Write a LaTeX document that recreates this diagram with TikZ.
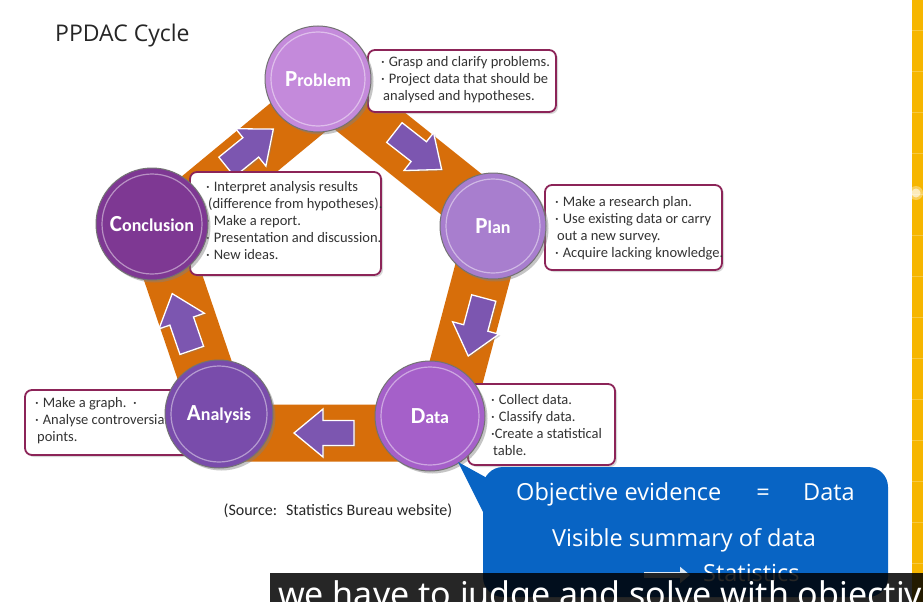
\documentclass[tikz,border=0pt]{standalone}
\usepackage{fontspec}
\setmainfont{Carlito}
\newfontfamily\segoe{Open Sans}
\newfontfamily\capfont{Noto Sans}
\usetikzlibrary{shadows,arrows.meta}
\definecolor{bandorange}{RGB}{215,110,10}
\definecolor{arrowpurple}{RGB}{124,86,176}
\definecolor{boxborder}{RGB}{140,36,88}
\definecolor{cprob}{RGB}{196,138,219}
\definecolor{cplan}{RGB}{168,126,206}
\definecolor{cdata}{RGB}{165,96,201}
\definecolor{canal}{RGB}{121,76,171}
\definecolor{cconc}{RGB}{126,56,147}
\definecolor{callblue}{RGB}{8,100,196}
\definecolor{stripyellow}{RGB}{246,182,0}
\tikzset{
  band/.style={draw=bandorange, line width=57pt, line join=miter},
  blockarrow/.style={fill=arrowpurple, draw=white, line width=1.3pt, line join=miter,
    drop shadow={opacity=0.35, shadow xshift=1.5pt, shadow yshift=-1.5pt}},
  pics/barrow/.style={code={\path[blockarrow] (-30,-12.5) -- (1,-12.5) -- (1,-24) -- (30,0) -- (1,24) -- (1,12.5) -- (-30,12.5) -- cycle;}},
  infobox/.style={rectangle, rounded corners=7pt, draw=boxborder, line width=1.8pt, fill=white,
    drop shadow={opacity=0.3, shadow xshift=2pt, shadow yshift=-2pt}, inner sep=0pt},
  infotext/.style={anchor=west, align=left, inner sep=0pt, font=\fontsize{14.5}{17}\selectfont, text=black!80},
  stage/.style={circle, minimum size=#1, draw=black!55, line width=1pt, text=white,
    font=\fontsize{18}{18}\selectfont\bfseries, inner sep=0pt,
    drop shadow={opacity=0.45, shadow xshift=2.5pt, shadow yshift=-2.5pt}},
  rim/.style={draw=white, draw opacity=0.45, line width=1.2pt},
  ctext/.style={text=white, font=\segoe\fontsize{23.5}{24}\selectfont, inner sep=0pt},
}
\newcommand{\bul}{\hspace{-2pt}\textperiodcentered\hspace{4pt}}
\newcommand{\firstl}[1]{{\fontsize{23}{23}\selectfont #1}}
\begin{document}
\begin{tikzpicture}[x=1pt,y=-1pt]
\useasboundingbox (0,0) rectangle (923,602);
\clip (0,0) rectangle (923,602);
\fill[white] (0,0) rectangle (923,602);
% title
\node[anchor=base west, inner sep=0pt, font=\segoe\fontsize{23}{23}\selectfont, text=black!85] (title) at (55,42) {PPDAC Cycle};
% band
\draw[band] (331,90) -- (496,222) -- (440,433) -- (226,433) -- (158,233) -- cycle;
% arrows
\pic[rotate=39] at (250,148) {barrow};
\pic[rotate=-38] at (418,151) {barrow};
\pic[rotate=-105] at (476,327) {barrow};
\pic[rotate=180] at (324,433) {barrow};
\pic[rotate=109] at (182,322) {barrow};
% boxes
\node[infobox, minimum width=188pt, minimum height=62pt] (probbox) at (462,81) {};
\node[infotext] (probtext) at (383,80) {\bul Grasp and clarify problems.\\ \bul Project data that should be\\ analysed and hypotheses.};
\node[infobox, minimum width=177pt, minimum height=85pt] (planbox) at (633.5,227.5) {};
\node[infotext] (plantext) at (557,228) {\bul Make a research plan.\\ \bul Use existing data or carry\\ out a new survey.\\ \bul Acquire lacking knowledge.};
\node[infobox, minimum width=191pt, minimum height=103pt] (concbox) at (285.5,223.5) {};
\node[infotext] (conctext) at (208,221) {\bul Interpret analysis results\\ (difference from hypotheses).\\ \bul Make a report.\\ \bul Presentation and discussion.\\ \bul New ideas.};
\node[infobox, minimum width=180pt, minimum height=65pt] (analbox) at (115,422.5) {};
\node[infotext] (analtext) at (37,421) {\bul Make a graph.\ \ \textperiodcentered\\ \bul Analyse controversial\\ points.};
\node[infobox, minimum width=147pt, minimum height=81pt] (databox) at (541.5,424.5) {};
\node[infotext] (datatext) at (493,425) {\bul Collect data.\\ \bul Classify data.\\ \hspace{-2pt}\textperiodcentered Create a statistical\\ table.};
% circles
\node[stage=106pt, fill=cprob] (problem) at (318,79) {\firstl{P}roblem};
\node[stage=106pt, fill=cplan] (plan) at (493,226) {\firstl{P}lan};
\node[stage=110pt, fill=cdata] (data) at (430,416) {\firstl{D}ata};
\node[stage=108pt, fill=canal] (analysis) at (219,414) {\firstl{A}nalysis};
\node[stage=112pt, fill=cconc] (conclusion) at (152,224) {\firstl{C}onclusion};
\foreach \n/\r in {problem/47,plan/47,data/49,analysis/48,conclusion/50}
  \draw[rim] (\n.center) circle[radius=\r pt];
% source
\node[font=\fontsize{16}{16}\selectfont, text=black!85, inner sep=0pt] (source) at (338,511) {(Source:\hspace{9pt}Statistics Bureau website)};
% callout
\node[rectangle, rounded corners=20pt, fill=callblue, minimum width=405pt, minimum height=130pt, inner sep=0pt] (callout) at (685.5,532) {};
\coordinate (tip) at (458,462);
\fill[callblue] (tip) -- (487,478) -- (487,520) -- cycle;
\node[ctext, anchor=base west] (obj) at (516,500) {Objective evidence};
\node[ctext, anchor=base] (eq) at (763,500) {=};
\node[ctext, anchor=base west] (dat) at (803,500) {Data};
\node[ctext, anchor=base west] (vis) at (552,546) {Visible summary of data};
\node[ctext, anchor=base west] (stat) at (703,581) {Statistics};
\coordinate (sa) at (644,575);
\coordinate (sb) at (690,575);
\draw[white!85!callblue, line width=6pt, -{Triangle[length=10pt,width=16pt]}] (sa) -- (sb);
% right strip
\fill[stripyellow] (912,0) rectangle (923,602);
\foreach \yy in {30,71,112,153,194,235,276,317,358,399,440,481,522,563}
  \draw[white, opacity=0.25, line width=0.6pt] (912,\yy) -- (923,\yy);
\fill[white, opacity=0.35] (916,193) circle[radius=7pt];
\fill[white, opacity=0.6] (916,193) circle[radius=4.5pt];
% caption bar
\fill[black, opacity=0.85] (270,573) rectangle (923,602);
\node[anchor=base west, inner sep=0pt, text=white, font=\capfont\fontsize{34}{34}\selectfont] (caption) at (278,606) {we have to judge and solve with objectiv};
\end{tikzpicture}
\end{document}
